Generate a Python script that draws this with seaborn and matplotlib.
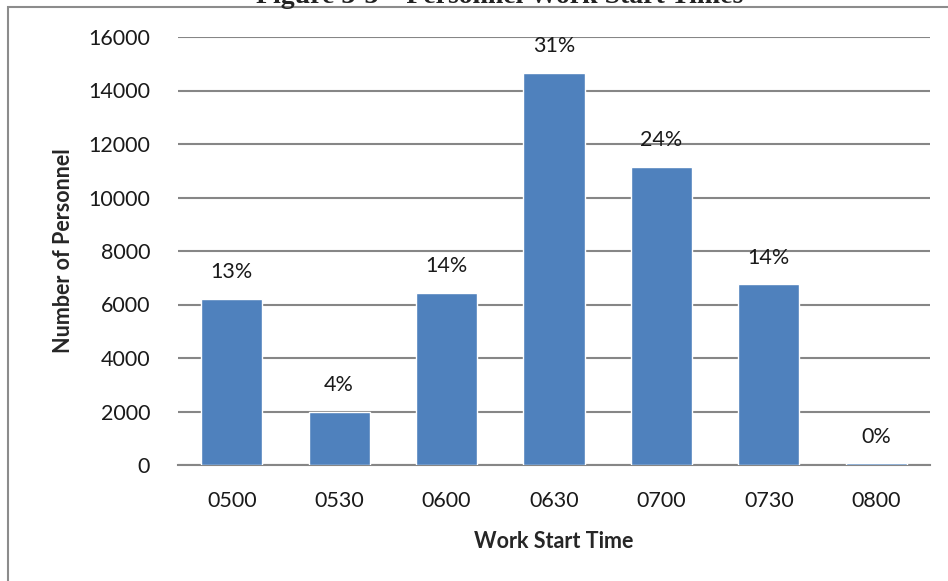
import matplotlib
matplotlib.use("Agg")
import matplotlib.pyplot as plt
import seaborn as sns
import pandas as pd
from matplotlib.patches import Rectangle

categories = ["0500", "0530", "0600", "0630", "0700", "0730", "0800"]
personnel = [6200, 1980, 6430, 14650, 11140, 6760, 60]
pct_labels = ["13%", "4%", "14%", "31%", "24%", "14%", "0%"]
yticks = [0, 2000, 4000, 6000, 8000, 10000, 12000, 14000, 16000]

sns.set_theme(style="white")
plt.rcParams['font.family'] = ['Lato', 'DejaVu Sans']

df = pd.DataFrame({"time": categories, "n": personnel})

fig = plt.figure(figsize=(9.48, 5.81), dpi=100)
ax = fig.add_axes([178/948, 1-465/581, (930-178)/948, (465-37)/581])

sns.barplot(data=df, x="time", y="n", color="#4F81BD", saturation=1,
            width=0.57, ax=ax, zorder=3)

FS = 15.5
ax.set_ylim(0, 16000)
ax.set_xlim(-0.5, 6.5)
ax.set_yticks(yticks)
ax.set_yticklabels([str(v) for v in yticks])
ax.yaxis.grid(True, color="#868686", linewidth=1.5, zorder=0)
ax.set_axisbelow(True)
for s in ["top", "right", "left"]:
    ax.spines[s].set_visible(False)
ax.spines["bottom"].set_color("#868686")
ax.spines["bottom"].set_linewidth(1.5)
ax.tick_params(axis="both", length=0, labelsize=FS, colors="#1a1a1a")
ax.tick_params(axis="y", pad=20)
ax.tick_params(axis="x", pad=19)

for i, (v, lab) in enumerate(zip(personnel, pct_labels)):
    ax.annotate(lab, (i, v), xytext=(0, 12), textcoords="offset points",
                ha="center", va="bottom", fontsize=FS, color="#1a1a1a")

ax.set_xlabel("Work Start Time", fontsize=FS, fontweight="bold", labelpad=14)
ax.set_ylabel("Number of Personnel", fontsize=FS, fontweight="bold", labelpad=10)

fig.patches.append(Rectangle((8/948, -0.1), 1.2, (1 - 7/581) + 0.1,
                             transform=fig.transFigure, fill=False,
                             edgecolor="#8c8c8c", linewidth=1.5, zorder=0))

fig.text(0.527, 1 - 3/581, "Figure 3-3 – Personnel Work Start Times",
         ha="center", va="baseline", fontsize=20, fontweight="bold",
         family=["Liberation Serif", "DejaVu Serif"], color="#222222")

fig.savefig("out.png", dpi=100)
